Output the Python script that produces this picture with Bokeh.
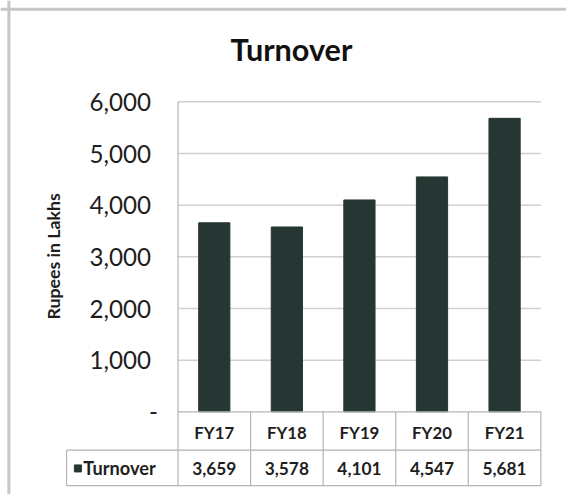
import math
from bokeh.plotting import figure
from bokeh.models import Range1d, Span
from bokeh.core.properties import value
from bokeh.embed import file_html
from bokeh.resources import INLINE

# ---- data ----
categories = ["FY17", "FY18", "FY19", "FY20", "FY21"]
turnover = [3659, 3578, 4101, 4547, 5681]
series_name = "Turnover"
y_ticks = [0, 1000, 2000, 3000, 4000, 5000, 6000]
y_tick_labels = ["-", "1,000", "2,000", "3,000", "4,000", "5,000", "6,000"]
title_text = "Turnover"
y_title = "Rupees in Lakhs"

# ---- layout helpers (reference pixel -> data) ----
REF_W, REF_H = 574, 502
W, H = 566, 494
PX_CAT = 73.6      # reference pixels per category
X_EDGE = 180.0     # reference x of left edge of first category
PX_UNIT = 0.0525   # reference pixels per unit
Y_ZERO = 418.0     # reference y of value 0


def dx(px):
    return (px - X_EDGE) / PX_CAT - 0.5


def dy(py):
    return (Y_ZERO - py) / PX_UNIT


def fs(px):
    return f"{px * W / REF_W:.1f}px"


FONT = "Lato"
BAR = "#263633"
GRID = "#d0d0d0"
TABLE = "#b4b4b4"
TXT = "#1e1e1e"

p = figure(width=W, height=H, output_backend="svg", toolbar_location=None,
           x_axis_location=None, y_axis_location=None,
           x_range=Range1d(dx(0), dx(REF_W)), y_range=Range1d(dy(REF_H), dy(0)),
           min_border=0, min_border_left=0, min_border_right=0,
           min_border_top=0, min_border_bottom=0)
p.outline_line_color = None
p.grid.visible = False
p.background_fill_color = "white"

n = len(categories)
idx = list(range(n))
x_left_tab = dx(67)
y_head = dy(438.5)
y_mid = dy(457)
y_val = dy(475.5)
y_bot = dy(493)

# outer chart border (partially visible)
p.add_layout(Span(location=dx(8.5), dimension="height", line_color="#c6c6c6", line_width=3))
p.add_layout(Span(location=dy(9), dimension="width", line_color="#c6c6c6", line_width=3))

# gridlines
gy = [t for t in y_ticks if t > 0]
p.segment(x0=[-0.5] * len(gy), x1=[n - 0.5] * len(gy), y0=gy, y1=gy,
          line_color=GRID, line_width=1.5)

# bars
p.vbar(x=idx, top=turnover, width=0.43, fill_color=BAR, line_color=BAR)

# table lines
sx0 = [-0.5, x_left_tab, x_left_tab, x_left_tab, -0.5] + [i + 0.5 for i in idx]
sx1 = [n - 0.5, n - 0.5, n - 0.5, x_left_tab, -0.5] + [i + 0.5 for i in idx]
sy0 = [0, y_mid, y_bot, y_mid, max(y_ticks)] + [0] * n
sy1 = [0, y_mid, y_bot, y_bot, y_bot] + [y_bot] * n
p.segment(x0=sx0, x1=sx1, y0=sy0, y1=sy1, line_color=TABLE, line_width=1.2)

# y tick labels
offs = [-20 if lab == "-" else -27 for lab in y_tick_labels]
p.text(x=[-0.5] * len(y_ticks), y=y_ticks, text=y_tick_labels, x_offset=offs,
       text_align="right", text_baseline="middle", text_font=value(FONT),
       text_font_size=fs(24.5), text_color=TXT)

# y axis title
p.text(x=[dx(53.5)], y=[dy(260)], text=[y_title], angle=math.pi / 2,
       text_align="center", text_baseline="middle", text_font=value(FONT),
       text_font_size=fs(18), text_font_style="bold", text_color=TXT)

# chart title
p.text(x=[dx(295)], y=[dy(50)], text=[title_text], text_align="center",
       text_baseline="middle", text_font=value(FONT), text_font_size=fs(31),
       text_font_style="bold", text_color="#111111")

# table header & values
p.text(x=idx, y=[y_head] * n, text=categories, text_align="center",
       text_baseline="middle", text_font=value(FONT), text_font_size=fs(17),
       text_font_style="bold", text_color=TXT)
p.text(x=idx, y=[y_val] * n, text=[f"{v:,}" for v in turnover], text_align="center",
       text_baseline="middle", text_font=value(FONT), text_font_size=fs(17.5),
       text_font_style="bold", text_color=TXT)

# legend key + series name
p.scatter(x=[dx(78.5)], y=[y_val], marker="square", size=7, fill_color=BAR, line_color=BAR)
p.text(x=[dx(84)], y=[y_val], text=[series_name], text_align="left",
       text_baseline="middle", text_font=value(FONT), text_font_size=fs(18.5),
       text_font_style="bold", text_color=TXT)

open("out.html", "w").write(file_html(p, INLINE))
